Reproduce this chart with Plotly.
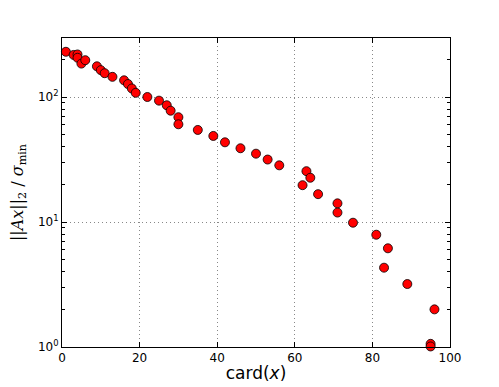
import plotly.graph_objects as go

# card(x) values and corresponding ||Ax||_2 / sigma_min
card = [1, 3, 4, 4, 5, 6, 9, 10, 11, 13, 16, 17, 18, 19, 22, 25, 27, 28, 30, 30,
        35, 39, 42, 46, 50, 53, 56, 62, 63, 64, 66, 71, 71, 75, 81, 83, 84, 89,
        95, 95, 96]
ratio = [230, 217, 219, 206, 185, 197, 176, 164, 155, 145, 136, 127, 117, 108,
         100, 93.5, 85.9, 77.7, 68.9, 60.5, 54.5, 48.8, 43.4, 38.9, 35.2, 31.6,
         28.4, 19.7, 25.5, 22.6, 16.7, 14.1, 11.9, 9.87, 7.91, 4.31, 6.16, 3.19,
         1.06, 1.01, 2.0]

y_tickvals = [1, 10, 100]
y_ticktext = ["10<sup>0</sup>", "10<sup>1</sup>", "10<sup>2</sup>"]
y_minor = [m * 10 ** e for e in range(3) for m in range(2, 10) if m * 10 ** e < 300]

fig = go.Figure()
fig.add_trace(go.Scatter(
    x=card,
    y=ratio,
    mode="markers",
    marker=dict(size=9, color="red", line=dict(width=0.8, color="black")),
    cliponaxis=False,
    showlegend=False,
))

axis_common = dict(
    showline=True,
    linecolor="black",
    linewidth=1,
    mirror="allticks",
    ticks="inside",
    ticklen=5,
    tickcolor="black",
    showgrid=True,
    gridcolor="#888888",
    griddash="1px,3px",
    gridwidth=1,
    zeroline=False,
    automargin=False,
    tickfont=dict(size=12, color="black"),
)

fig.update_xaxes(
    range=[0, 100],
    tick0=0,
    dtick=20,
    title=dict(text="card(<i>x</i>)", font=dict(size=17, color="black"), standoff=2),
    **axis_common,
)
fig.update_yaxes(
    type="log",
    range=[0, 2.472],
    tickvals=y_tickvals,
    ticktext=y_ticktext,
    minor=dict(tickvals=y_minor, ticks="inside", ticklen=3, tickcolor="black", showgrid=False),
    title=dict(text="||<i>Ax</i>||<sub>2</sub> / <i>σ</i><sub>min</sub>",
               font=dict(size=16, color="black", family="DejaVu Serif"), standoff=18),
    **axis_common,
)

fig.update_layout(
    width=491,
    height=379,
    margin=dict(l=54, r=49, t=30, b=40),
    paper_bgcolor="white",
    plot_bgcolor="white",
    font=dict(family="DejaVu Sans", color="black"),
)

fig.write_html("out.html")
